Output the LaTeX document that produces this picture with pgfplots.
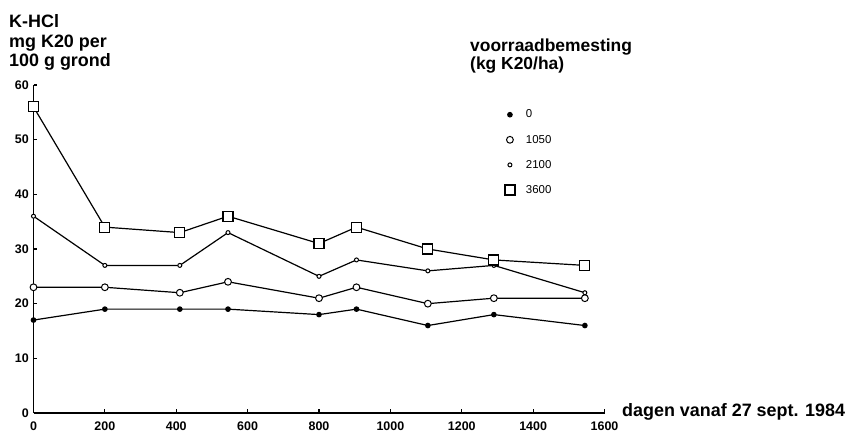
\documentclass[border=0pt]{standalone}
\usepackage{fontspec}
\setmainfont{Liberation Sans}
\usepackage{pgfplots}
\pgfplotsset{compat=1.18}
\begin{document}
\begin{tikzpicture}
\begin{axis}[
  at={(0bp,0bp)}, anchor=south west,
  scale only axis, width=571bp, height=328bp,
  xmin=0, xmax=1600, ymin=0, ymax=60,
  axis x line=bottom, axis y line=left,
  axis line style={-, line width=1.4bp, black},
  xtick={0,200,...,1600}, ytick={0,10,...,60},
  tick align=inside, major tick length=4bp,
  tick style={line width=1.1bp, black},
  ticklabel style={font=\fontsize{12.5}{13}\selectfont\bfseries},
  xticklabel style={yshift=-5.5bp},
  yticklabel style={xshift=-1.3bp},
  /pgf/number format/assume math mode=true,
  /pgf/number format/1000 sep={},
  clip=false,
  legend cell align=left,
  legend image code/.code={\path[draw=none,fill=none] (-5bp,0bp) -- (14bp,0bp); \draw[#1] plot[only marks] coordinates {(0bp,0bp)};},
  legend style={draw=none, fill=none, inner sep=0pt, outer sep=0pt,
    at={(axis cs:1321,55.8)}, anchor=north west, row sep=11.6bp,
    font=\fontsize{11.5}{12}\selectfont, nodes={inner sep=2bp}},
]
\addplot[black, line width=1.2bp, mark=*, mark size=2.2bp] coordinates {
 (0,17)(200,19)(410,19)(545,19)(800,18)(905,19)(1105,16)(1290,18)(1545,16)};
\addlegendentry{0}
\addplot[black, line width=1.2bp, mark=*, mark size=3.4bp, mark options={fill=white, line width=1bp}] coordinates {
 (0,23)(200,23)(410,22)(545,24)(800,21)(905,23)(1105,20)(1290,21)(1545,21)};
\addlegendentry{1050}
\addplot[black, line width=1.2bp, mark=*, mark size=2bp, mark options={fill=white, line width=1bp}] coordinates {
 (0,36)(200,27)(410,27)(545,33)(800,25)(905,28)(1105,26)(1290,27)(1545,22)};
\addlegendentry{2100}
\addplot[black, line width=1.2bp, mark=square*, mark size=5bp, mark options={fill=white, line width=1.2bp}] coordinates {
 (0,56)(200,34)(410,33)(545,36)(800,31)(905,34)(1105,30)(1290,28)(1545,27)};
\addlegendentry{3600}
\end{axis}
\begin{scope}[every node/.style={inner sep=0pt, anchor=base west, font=\fontsize{18}{19}\selectfont\bfseries}]
\node at (-24.5bp,385bp) {K-HCl};
\node at (-24.5bp,365bp) {mg K20 per};
\node at (-24.5bp,346.5bp) {100 g grond};
\node[font=\fontsize{17.5}{19}\selectfont\bfseries] at (436.5bp,361bp) {voorraadbemesting};
\node[font=\fontsize{17.5}{19}\selectfont\bfseries] at (436.5bp,343bp) {(kg K20/ha)};
\node at (588.5bp,-3.7bp) {dagen vanaf 27 sept. 1984};
\end{scope}
\pgfresetboundingbox
\path[use as bounding box] (-33.5bp,-22bp) rectangle (820.5bp,413bp);
\end{tikzpicture}
\end{document}
